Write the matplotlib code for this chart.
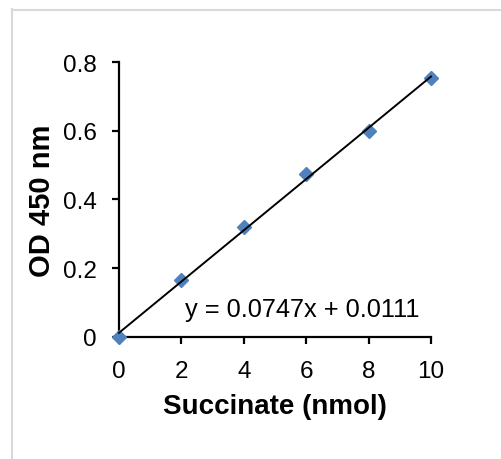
import matplotlib
matplotlib.use("Agg")
import matplotlib.pyplot as plt
from matplotlib.lines import Line2D
import numpy as np

# Data
succinate_nmol = [0, 2, 4, 6, 8, 10]
od_450 = [0.0, 0.166, 0.320, 0.474, 0.600, 0.754]
slope = 0.0747
intercept = 0.0111
x_ticks = [0, 2, 4, 6, 8, 10]
x_tick_labels = ["0", "2", "4", "6", "8", "10"]
y_ticks = [0, 0.2, 0.4, 0.6, 0.8]
y_tick_labels = ["0", "0.2", "0.4", "0.6", "0.8"]
equation = "y = 0.0747x + 0.0111"

plt.rcParams['font.family'] = ['Liberation Sans', 'DejaVu Sans']

fig = plt.figure(figsize=(5.02, 4.60), dpi=100)
fig.patch.set_facecolor('white')
ax = fig.add_axes([0.237, 0.266, 0.6215, 0.5966])

ax.plot(succinate_nmol, od_450, linestyle='none', marker='D', markersize=7,
        color='#4F81BD', markeredgecolor='#4F81BD', clip_on=False, zorder=3)

xs = np.array([succinate_nmol[0], succinate_nmol[-1]])
ax.plot(xs, slope * xs + intercept, color='black', linewidth=1.4, zorder=4, clip_on=False)

ax.set_xlim(0, 10)
ax.set_ylim(0, 0.8)
ax.set_xticks(x_ticks)
ax.set_xticklabels(x_tick_labels)
ax.set_yticks(y_ticks)
ax.set_yticklabels(y_tick_labels)

for s in ['top', 'right']:
    ax.spines[s].set_visible(False)
for s in ['left', 'bottom']:
    ax.spines[s].set_linewidth(1.6)
    ax.spines[s].set_color('black')

ax.tick_params(axis='both', direction='out', length=5, width=1.6, labelsize=17.5,
               colors='black')
ax.tick_params(axis='x', pad=12)
ax.tick_params(axis='y', pad=11)

ax.set_xlabel("Succinate (nmol)", fontsize=20, fontweight='bold', labelpad=8)
ax.set_ylabel("OD 450 nm", fontsize=21, fontweight='bold', labelpad=5)

ax.text(2.12, 0.061, equation, fontsize=18.3, ha='left', va='baseline')

# light gray frame
fig.add_artist(Line2D([12.5/502, 12.5/502], [0, 1 - 10/460], transform=fig.transFigure,
                      color='#d9d9d9', linewidth=1.5))
fig.add_artist(Line2D([12/502, 1], [1 - 10.5/460, 1 - 10.5/460], transform=fig.transFigure,
                      color='#d9d9d9', linewidth=1.5))

fig.savefig("out.png", dpi=100, facecolor='white')
